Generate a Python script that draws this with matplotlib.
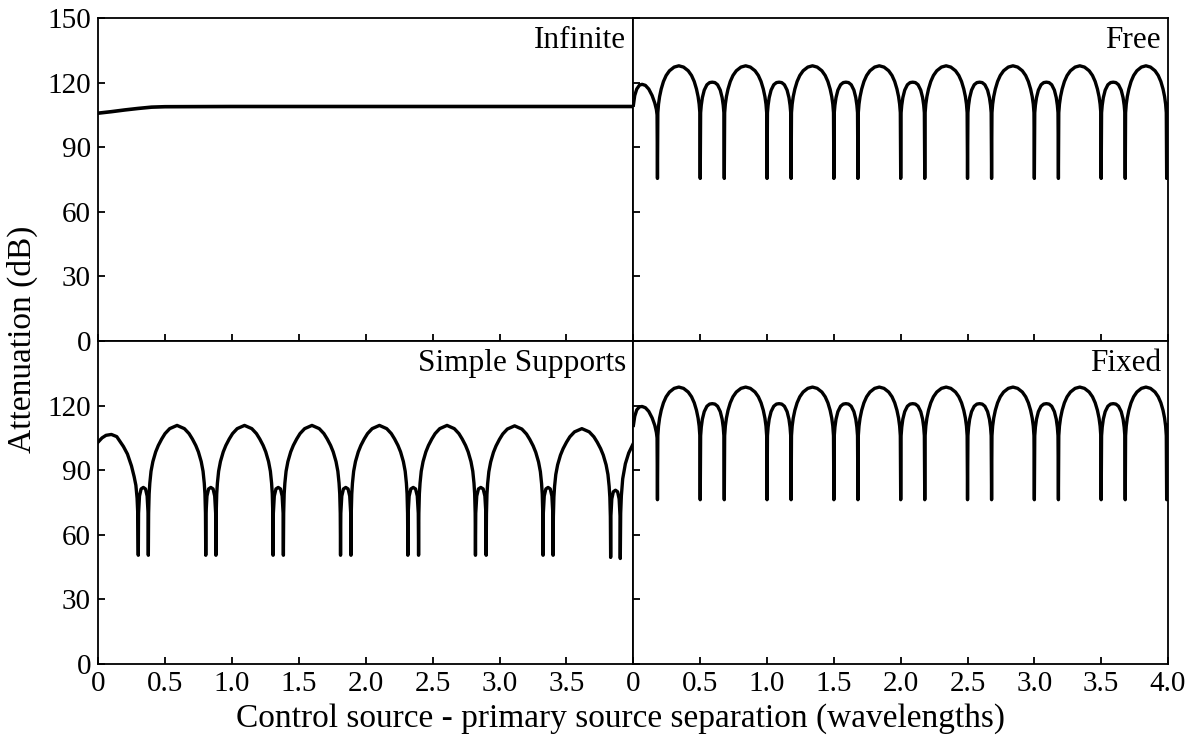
import numpy as np
import matplotlib.pyplot as plt

plt.rcParams['font.family'] = ['Liberation Serif', 'DejaVu Serif']

# ---- Infinite
inf_x = [0, 0.1, 0.2, 0.3, 0.4, 0.5, 1.0, 2.0, 3.0, 4.0]
inf_y = [105.8, 106.5, 107.3, 108.0, 108.6, 108.8, 108.9, 108.9, 108.9, 108.9]

# ---- Free / Fixed: dips, arches alternate big / small
ff_dip_x = [0.18, 0.50, 0.68, 1.00, 1.18, 1.50, 1.68, 2.00, 2.18, 2.50,
            2.68, 3.00, 3.18, 3.50, 3.68, 3.99]
ff_arch = ['big', 'small'] * 7 + ['big']
free_dip_y = [75.5] * 16
fixed_dip_y = [76.3] * 16

# arch shapes, position as fraction of the span between two dips
big_frac = [0.009, 0.025, 0.05, 0.0875, 0.14, 0.203, 0.281, 0.39, 0.5,
            0.61, 0.719, 0.797, 0.86, 0.9125, 0.95, 0.975, 0.991]
free_big_y = [106, 110, 113.5, 117, 120.5, 123.3, 125.5, 127.2, 127.8,
              127.2, 125.5, 123.3, 120.5, 117, 113.5, 110, 106]
fixed_big_y = [106, 110.5, 114.2, 117.8, 121.3, 124.1, 126.3, 128.0, 128.6,
               128.0, 126.3, 124.1, 121.3, 117.8, 114.2, 110.5, 106]
small_frac = [0.017, 0.044, 0.089, 0.167, 0.278, 0.389, 0.5,
              0.611, 0.722, 0.833, 0.911, 0.956, 0.983]
free_small_y = [106, 109.5, 113, 116.5, 119, 120, 120.2,
                120, 119, 116.5, 113, 109.5, 106]
fixed_small_y = [106, 110, 113.7, 117.2, 119.7, 120.7, 120.9,
                 120.7, 119.7, 117.2, 113.7, 110, 106]

free_start_x = [0, 0.01, 0.025, 0.045, 0.065, 0.09, 0.115, 0.14, 0.16, 0.172, 0.177]
free_start_y = [109.5, 114, 117, 118.8, 119.2, 118.7, 117, 114, 110.5, 107.5, 105]
fixed_start_y = [110.8, 115, 118, 119.4, 119.6, 119, 117.3, 114.3, 110.8, 107.5, 105]
ff_end_x = [3.993, 4.0]
free_end_y = [106, 110]
fixed_end_y = [106, 111]

# ---- Simple Supports
ss_dip_x = [0.301, 0.376, 0.805, 0.881, 1.308, 1.385, 1.812, 1.890,
            2.315, 2.395, 2.820, 2.900, 3.325, 3.400, 3.830, 3.902]
ss_dip_y = [50.5, 50.5, 50.5, 50.5, 50.5, 50.5, 50.5, 50.5,
            50.5, 50.5, 50.5, 50.5, 50.5, 50.5, 49.5, 49.0]
ss_arch = ['small', 'big'] * 7 + ['small']
ss_shift = [0, 0, 0, 0, 0, 0, 0, 0, 0, 0, 0, -0.2, 0, -1.5, -1.3]
ss_small_frac = [0.027, 0.12, 0.28, 0.5, 0.72, 0.88, 0.973]
ss_small_y = [70, 78, 81.3, 82, 81.3, 78, 70]
ss_big_frac = [0.005, 0.014, 0.026, 0.047, 0.079, 0.128, 0.174, 0.233, 0.291, 0.372, 0.5,
               0.628, 0.709, 0.767, 0.826, 0.872, 0.921, 0.953, 0.974, 0.986, 0.995]
ss_big_y = [70, 79, 84, 89.5, 94, 98.5, 101.5, 104.5, 107, 109.3, 110.8,
            109.3, 107, 104.5, 101.5, 98.5, 94, 89.5, 84, 79, 70]
ss_start_x = [0, 0.03, 0.06, 0.10, 0.14, 0.19, 0.22, 0.25, 0.27, 0.283, 0.292, 0.297]
ss_start_y = [103, 105, 106.2, 106.6, 105.6, 101, 97.5, 92, 87, 83, 77, 70]
ss_end_x = [3.905, 3.91, 3.92, 3.94, 3.965, 4.0]
ss_end_y = [70, 78, 86, 93, 98, 102.5]

titles = ['Infinite', 'Free', 'Simple Supports', 'Fixed']
y_ticks = [0, 30, 60, 90, 120, 150]
x_ticks = [0, 0.5, 1.0, 1.5, 2.0, 2.5, 3.0, 3.5, 4.0]


def join_arches(sx, sy, dx, dy, kinds, shapes, ex, ey, shift=None):
    xs, ys = list(sx), list(sy)
    for i in range(len(dx)):
        xs.append(dx[i])
        ys.append(dy[i])
        if i < len(kinds):
            fr, vals = shapes[kinds[i]]
            s = 0 if shift is None else shift[i]
            for f, v in zip(fr, vals):
                xs.append(dx[i] + f * (dx[i + 1] - dx[i]))
                ys.append(v + s)
    return xs + list(ex), ys + list(ey)


free_x, free_y = join_arches(free_start_x, free_start_y, ff_dip_x, free_dip_y, ff_arch,
                             {'big': (big_frac, free_big_y), 'small': (small_frac, free_small_y)},
                             ff_end_x, free_end_y)
fixed_x, fixed_y = join_arches(free_start_x, fixed_start_y, ff_dip_x, fixed_dip_y, ff_arch,
                               {'big': (big_frac, fixed_big_y), 'small': (small_frac, fixed_small_y)},
                               ff_end_x, fixed_end_y)
ss_x, ss_y = join_arches(ss_start_x, ss_start_y, ss_dip_x, ss_dip_y, ss_arch,
                         {'big': (ss_big_frac, ss_big_y), 'small': (ss_small_frac, ss_small_y)},
                         ss_end_x, ss_end_y, ss_shift)

fig = plt.figure(figsize=(11.95, 7.46), dpi=100)
L, M, R = 98 / 1195, 633.4 / 1195, 1168 / 1195
top_b, top_t = 1 - 341 / 746, 1 - 18 / 746
bot_b = 1 - 664 / 746
ax_inf = fig.add_axes([L, top_b, M - L, top_t - top_b])
ax_free = fig.add_axes([M, top_b, R - M, top_t - top_b])
ax_ss = fig.add_axes([L, bot_b, M - L, top_b - bot_b])
ax_fix = fig.add_axes([M, bot_b, R - M, top_b - bot_b])

ax_inf.plot(inf_x, inf_y, color='black', lw=2.6)
for ax, xx, yy in [(ax_free, free_x, free_y), (ax_ss, ss_x, ss_y), (ax_fix, fixed_x, fixed_y)]:
    ax.plot(xx, yy, color='black', lw=2.4, solid_joinstyle='round')


def xfmt(v):
    return '0' if v == 0 else '%.1f' % v


for ax, t in zip([ax_inf, ax_free, ax_ss, ax_fix], titles):
    ax.set_xlim(0, 4.0)
    ax.set_ylim(0, 150)
    ax.set_xticks(x_ticks)
    ax.set_yticks(y_ticks)
    ax.tick_params(direction='in', length=5, width=1.3, labelsize=21, pad=5)
    for s in ax.spines.values():
        s.set_linewidth(1.3)
    ax.text(0.987, 0.975, t, transform=ax.transAxes, ha='right', va='top', fontsize=22.5)

ax_inf.set_xticklabels([])
ax_free.set_xticklabels([])
ax_free.set_yticklabels([])
ax_fix.set_yticklabels([])
ax_inf.set_yticklabels([str(v) for v in y_ticks])
ax_ss.set_yticklabels([str(v) for v in y_ticks[:-1]] + [''])
ax_ss.set_xticklabels([xfmt(v) for v in x_ticks[:-1]] + [''])
ax_fix.set_xticklabels([xfmt(v) for v in x_ticks])

fig.text(0.019, 0.545, 'Attenuation (dB)', rotation=90, ha='center', va='center', fontsize=24)
fig.text(0.519, 0.037, 'Control source - primary source separation (wavelengths)',
         ha='center', va='center', fontsize=24)

fig.savefig('out.png', dpi=100)
